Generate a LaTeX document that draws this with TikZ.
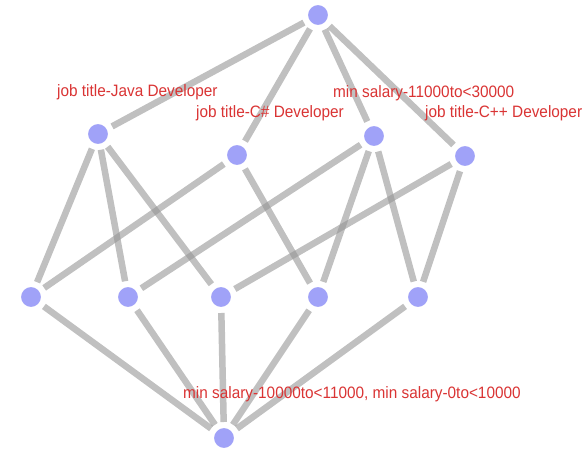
\documentclass[tikz,border=0pt]{standalone}
\usepackage{graphicx}
\usepackage{fontspec}
\setmainfont{Liberation Sans}
\definecolor{vfill}{RGB}{160,162,248}
\definecolor{edgegray}{RGB}{150,150,150}
\definecolor{lblred}{RGB}{218,52,52}
\begin{document}
\begin{tikzpicture}[x=1pt,y=-1pt,
  vert/.style={circle,fill=vfill,draw=white,line width=3pt,minimum size=23pt,inner sep=0pt},
  edge/.style={draw=edgegray,line width=6.5pt,opacity=0.6,shorten >=3pt,shorten <=3pt},
  lbl/.style={text=lblred,anchor=west,inner sep=0pt,font=\fontsize{16.5}{18}\selectfont}]
\useasboundingbox[fill=white] (0,0) rectangle (585,449);
% vertices
\node[vert] (top) at (318,15) {};
\node[vert] (java) at (98,134) {};
\node[vert] (cs) at (237,155) {};
\node[vert] (ms) at (374,136) {};
\node[vert] (cpp) at (465,156) {};
\node[vert] (a) at (31,297) {};
\node[vert] (b) at (128,297) {};
\node[vert] (c) at (221,297) {};
\node[vert] (d) at (318,297) {};
\node[vert] (e) at (418,297) {};
\node[vert] (bot) at (224,438) {};
% edges
\foreach \u/\v in {top/java,top/cs,top/ms,top/cpp,
  java/a,java/b,java/c,cs/a,cs/d,ms/b,ms/d,ms/e,cpp/c,cpp/e,
  a/bot,b/bot,c/bot,d/bot,e/bot}
  \path[edge] (\u) -- (\v);
% redraw vertices on top
\foreach \n/\p in {top/{318,15},java/{98,134},cs/{237,155},ms/{374,136},cpp/{465,156},
  a/{31,297},b/{128,297},c/{221,297},d/{318,297},e/{418,297},bot/{224,438}}
  \node[vert] at (\p) {};
% labels
\node[lbl] (ljava) at (57,92) {\scalebox{0.93}[1]{job title-Java Developer}};
\node[lbl] (lcs) at (196,113) {\scalebox{0.93}[1]{job title-C\# Developer}};
\node[lbl] (lms) at (333,93) {\scalebox{0.93}[1]{min salary-11000to<30000}};
\node[lbl] (lcpp) at (425,113) {\scalebox{0.93}[1]{job title-C++ Developer}};
\node[lbl] (lbot) at (183,394) {\scalebox{0.93}[1]{min salary-10000to<11000, min salary-0to<10000}};
\end{tikzpicture}
\end{document}
